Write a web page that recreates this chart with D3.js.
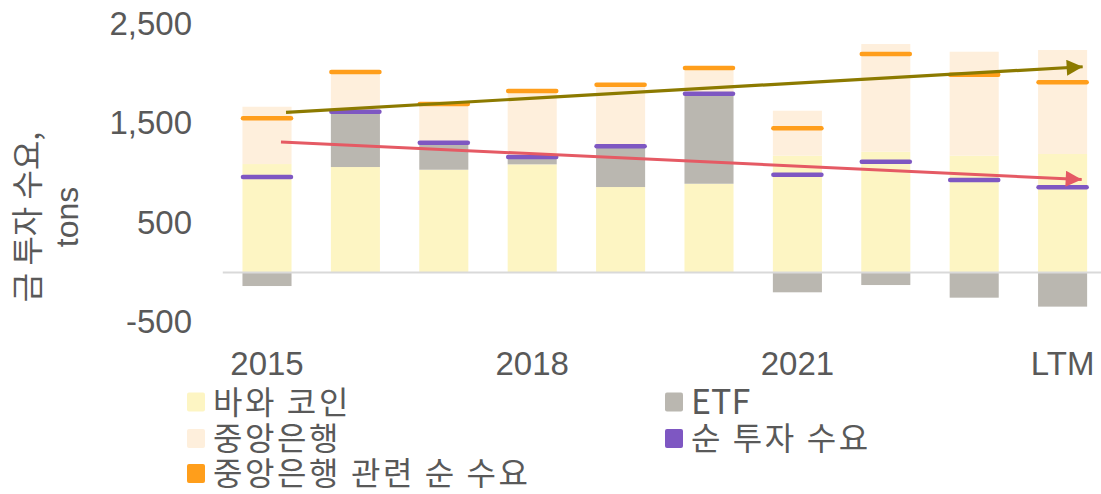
<!DOCTYPE html>
<html>
<head>
<meta charset="utf-8">
<script src="https://cdn.jsdelivr.net/npm/d3@7"></script>
<style>
  body { margin: 0; background: #fff; }
  text { fill: #595959; }
</style>
</head>
<body>
<div id="wrapper"></div>
<script>
// data (tons)
const years = ["2015", "2016", "2017", "2018", "2019", "2020", "2021", "2022", "2023", "LTM"];
const shownYears = ["2015", "2018", "2021", "LTM"];
const barCoin = [1090, 1060, 1033, 1087, 859, 892, 1174, 1214, 1174, 1191];
const etf = [-136, 556, 272, 77, 400, 900, -199, -126, -253, -343];
const centralBank = [576, 400, 400, 670, 643, 277, 452, 1082, 1045, 1045];
const netInvestment = [960, 1616, 1305, 1160, 1268, 1797, 983, 1114, 930, 856];
const cbNetDemand = [1550, 2015, 1693, 1824, 1888, 2055, 1449, 2196, 1988, 1911];
const yTicks = [-500, 500, 1500, 2500];

// trend arrows: position along the year index and value
const upTrend = [{ i: 0.215, v: 1610 }, { i: 9.227, v: 2068 }];
const downTrend = [{ i: 0.158, v: 1312 }, { i: 9.216, v: 935 }];

const keys = ["barCoin", "etf", "centralBank"];
const colors = { barCoin: "#fdf5c3", etf: "#bab7b0", centralBank: "#feefdc" };

const legendItems = [
  { label: "바와 코인", color: "#fdf5c3", col: 0, row: 0 },
  { label: "ETF", color: "#bab7b0", col: 1, row: 0 },
  { label: "중앙은행", color: "#feefdc", col: 0, row: 1 },
  { label: "순 투자 수요", color: "#7e57c2", col: 1, row: 1 },
  { label: "중앙은행 관련 순 수요", color: "#ff9e1b", col: 0, row: 2 },
];

const table = years.map((y, i) => ({
  year: y, barCoin: barCoin[i], etf: etf[i], centralBank: centralBank[i],
  net: netInvestment[i], cbNet: cbNetDemand[i],
}));

const width = 1101, height = 494;
const svg = d3.select("#wrapper").append("svg")
  .attr("width", width).attr("height", height);

const x = d3.scaleBand().domain(years).range([222.8, 1106.8])
  .paddingInner(0.445).paddingOuter(0.2225);
const y = d3.scaleLinear().domain([-500, 2500]).range([322.25, 23.75]);
const xi = d3.scaleLinear().domain([0, years.length - 1])
  .range([x(years[0]) + x.bandwidth() / 2, x(years[years.length - 1]) + x.bandwidth() / 2]);

// stacked bars
const series = d3.stack().keys(keys).offset(d3.stackOffsetDiverging)(table);
svg.append("g").selectAll("g").data(series).join("g")
  .attr("fill", d => colors[d.key])
  .selectAll("rect").data(d => d).join("rect")
  .attr("x", d => x(d.data.year))
  .attr("width", x.bandwidth())
  .attr("y", d => y(Math.max(d[0], d[1])))
  .attr("height", d => Math.abs(y(d[0]) - y(d[1])));

// zero line
svg.append("line")
  .attr("x1", x.range()[0]).attr("x2", x.range()[1])
  .attr("y1", y(0)).attr("y2", y(0))
  .attr("stroke", "#d9d9d9").attr("stroke-width", 2);

// marker dashes
function dashes(acc, color) {
  svg.append("g").selectAll("line").data(table).join("line")
    .attr("x1", d => x(d.year) + 0.5)
    .attr("x2", d => x(d.year) + x.bandwidth() - 0.5)
    .attr("y1", d => y(acc(d))).attr("y2", d => y(acc(d)))
    .attr("stroke", color).attr("stroke-width", 4.5)
    .attr("stroke-linecap", "round");
}
dashes(d => d.net, "#7e57c2");
dashes(d => d.cbNet, "#ff9e1b");

// arrows
const defs = svg.append("defs");
function arrow(id, pts, color, w) {
  defs.append("marker").attr("id", id)
    .attr("viewBox", "0 0 10 10").attr("refX", 10).attr("refY", 5)
    .attr("markerUnits", "userSpaceOnUse")
    .attr("markerWidth", 17).attr("markerHeight", 16)
    .attr("orient", "auto")
    .append("path").attr("d", "M0,0L10,5L0,10Z").attr("fill", color);
  svg.append("path")
    .attr("d", d3.line().x(d => xi(d.i)).y(d => y(d.v))(pts))
    .attr("fill", "none").attr("stroke", color).attr("stroke-width", w)
    .attr("marker-end", `url(#${id})`);
}
arrow("up", upTrend, "#8c7a00", 3.2);
arrow("down", downTrend, "#e55a64", 3);

// y axis
const fmt = d => d3.format(",")(d).replace("\u2212", "-");
const yAxis = svg.append("g")
  .attr("transform", "translate(197,0)")
  .call(d3.axisLeft(y).tickValues(yTicks).tickSize(0).tickPadding(5).tickFormat(fmt));
yAxis.select(".domain").remove();
yAxis.selectAll("text")
  .attr("font-family", "'Liberation Sans', Arial, sans-serif")
  .attr("font-size", 33).attr("fill", "#595959");

// x axis
const xAxis = svg.append("g")
  .attr("transform", "translate(0,352)")
  .call(d3.axisBottom(x).tickValues(shownYears).tickSize(0).tickPadding(0));
xAxis.select(".domain").remove();
xAxis.selectAll("text")
  .attr("font-family", "'Liberation Sans', Arial, sans-serif")
  .attr("font-size", 33).attr("fill", "#595959");

// y title
const title = svg.append("text")
  .attr("transform", "translate(0,217) rotate(-90)")
  .attr("text-anchor", "middle")
  .attr("font-family", "'Noto Sans CJK KR', sans-serif")
  .attr("font-size", 32).attr("fill", "#595959");
title.append("tspan").attr("x", 0).attr("y", 39).text("금 투자 수요,");
title.append("tspan").attr("x", 0).attr("y", 78)
  .attr("font-family", "'Liberation Sans', Arial, sans-serif").text("tons");

// legend
const colX = [187, 665], rowY = [402, 438.5, 473.5];
const lg = svg.append("g").selectAll("g").data(legendItems).join("g")
  .attr("transform", d => `translate(${colX[d.col]},${rowY[d.row]})`);
lg.append("rect")
  .attr("x", 0).attr("y", -9.5).attr("width", 18).attr("height", 19)
  .attr("rx", 2).attr("fill", d => d.color);
lg.append("text")
  .attr("x", 26).attr("dy", "0.36em")
  .attr("font-family", d => d.label === "ETF"
    ? "'Liberation Sans Narrow', 'Noto Sans CJK KR', sans-serif"
    : "'Noto Sans CJK KR', sans-serif")
  .attr("font-size", d => d.label === "ETF" ? 34 : 32)
  .attr("letter-spacing", d => d.label === "ETF" ? 0 : 2.6)
  .attr("fill", "#595959")
  .text(d => d.label);
</script>
</body>
</html>
